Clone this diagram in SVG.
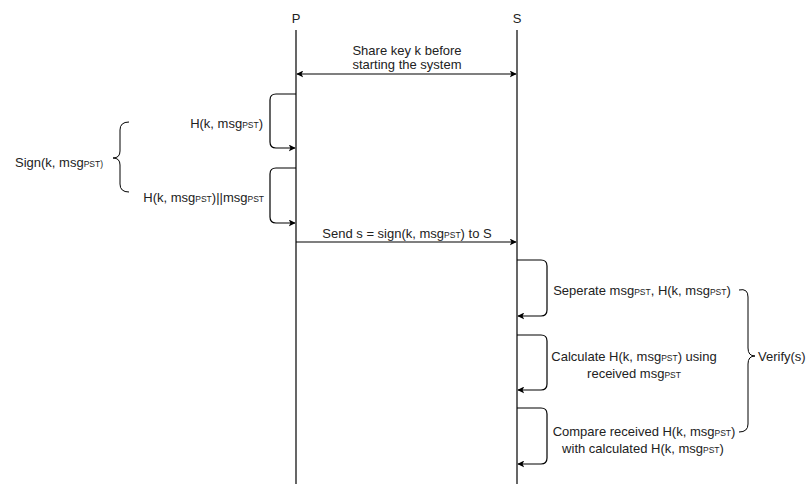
<svg xmlns="http://www.w3.org/2000/svg" width="811" height="484" viewBox="0 0 811 484">
<defs>
<marker id="ah" viewBox="0 0 10 10" refX="9" refY="5" markerWidth="7" markerHeight="7" orient="auto-start-reverse" markerUnits="userSpaceOnUse">
<path d="M0,0 L10,5 L0,10 L2.5,5 Z" fill="#000"/>
</marker>
<style>
text{font-family:"Liberation Sans",Arial,sans-serif;font-size:13px;fill:#222}
.s{font-size:8.5px}
.ln{fill:none;stroke:#000;stroke-width:1.2}
.br{fill:none;stroke:#000;stroke-width:1}
</style>
</defs>
<rect width="811" height="484" fill="#fff"/>
<g id="P">
<text x="296" y="23" text-anchor="middle">P</text>
<line class="ln" x1="296" y1="30" x2="296" y2="484"/>
</g>
<g id="S">
<text x="517" y="23" text-anchor="middle">S</text>
<line class="ln" x1="517" y1="30" x2="517" y2="484"/>
</g>
<g id="connectors">
<line class="ln" x1="297" y1="74" x2="516" y2="74" marker-start="url(#ah)" marker-end="url(#ah)"/>
<path class="ln" d="M296,94 H276 Q270,94 270,100 V142 Q270,148 276,148 H295" marker-end="url(#ah)"/>
<path class="ln" d="M296,168 H276 Q270,168 270,174 V217 Q270,223 276,223 H295" marker-end="url(#ah)"/>
<line class="ln" x1="296" y1="242" x2="516" y2="242" marker-end="url(#ah)"/>
<path class="ln" d="M517,260 H541 Q547,260 547,266 V310 Q547,316 541,316 H518" marker-end="url(#ah)"/>
<path class="ln" d="M517,335 H541 Q547,335 547,341 V384 Q547,390 541,390 H518" marker-end="url(#ah)"/>
<path class="ln" d="M517,408 H541 Q547,408 547,414 V458 Q547,464 541,464 H518" marker-end="url(#ah)"/>
</g>
<g id="label-share">
<text x="407" y="55" text-anchor="middle">Share key k before</text>
<text x="407" y="69" text-anchor="middle">starting the system</text>
</g>
<g id="label-hash">
<text x="263" y="128" text-anchor="end">H(k, msg<tspan class="s">PST</tspan>)</text>
</g>
<g id="label-concat">
<text x="264" y="202" text-anchor="end">H(k, msg<tspan class="s">PST</tspan>)||msg<tspan class="s">PST</tspan></text>
</g>
<g id="sign-brace">
<path class="br" d="M129,122 Q120,122 120,130 V151 Q120,158 113,158 Q120,158 120,165 V184 Q120,192 129,192"/>
<text x="15" y="167">Sign(k, msg<tspan class="s">PST)</tspan></text>
</g>
<g id="label-send">
<text x="407" y="238" text-anchor="middle">Send s = sign(k, msg<tspan class="s">PST</tspan>) to S</text>
</g>
<g id="label-separate">
<text x="642" y="295" text-anchor="middle">Seperate msg<tspan class="s">PST</tspan>, H(k, msg<tspan class="s">PST</tspan>)</text>
</g>
<g id="label-calculate">
<text x="634" y="361" text-anchor="middle">Calculate H(k, msg<tspan class="s">PST</tspan>) using</text>
<text x="634" y="378" text-anchor="middle">received msg<tspan class="s">PST</tspan></text>
</g>
<g id="label-compare">
<text x="644" y="436" text-anchor="middle">Compare received H(k, msg<tspan class="s">PST</tspan>)</text>
<text x="643" y="453" text-anchor="middle">with calculated H(k, msg<tspan class="s">PST</tspan>)</text>
</g>
<g id="verify-brace">
<path class="br" d="M739,290 Q748,288 748,297 V348 Q748,356 755,356 Q748,356 748,364 V424 Q748,432 739,432"/>
<text x="758" y="361">Verify(s)</text>
</g>
</svg>
